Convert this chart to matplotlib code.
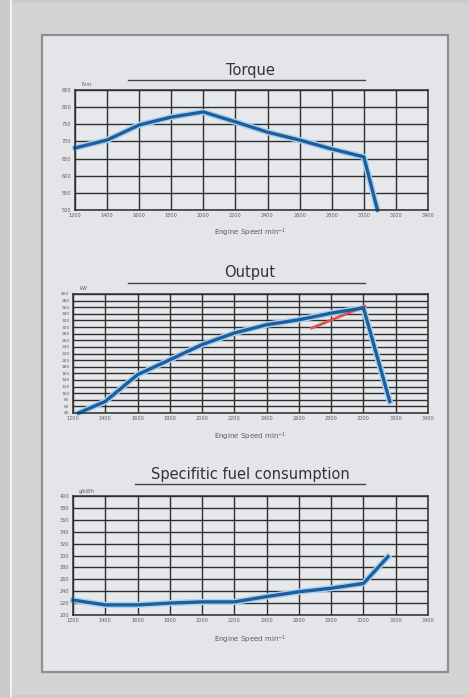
import matplotlib
matplotlib.use("Agg")
import matplotlib.pyplot as plt
from matplotlib.patches import Rectangle
from matplotlib.lines import Line2D

W, H = 469, 697

# x axis (engine speed, min^-1)
speed_ticks = list(range(1200, 3401, 200))

# torque curve
torque_rpm = [1200, 1400, 1600, 1800, 2000, 2200, 2400, 2600, 2800, 3000, 3085]
torque_nm = [681, 704, 748, 771, 786, 757, 727, 704, 678, 655, 500]
torque_ticks = list(range(500, 851, 50))

# output curve
power_rpm = [1235, 1400, 1600, 1800, 2000, 2200, 2400, 2600, 2800, 3000, 3163]
power_kw = [40, 75, 156, 201, 247, 282, 307, 322, 342, 358, 75]
power_red_rpm = [2680, 3008]
power_red_kw = [297, 363]
power_ticks = list(range(40, 401, 20))

# specific fuel consumption
fuel_rpm = [1200, 1400, 1600, 1800, 2000, 2200, 2400, 2600, 2800, 3000, 3152]
fuel_gkwh = [225, 217, 217, 220, 222, 222, 231, 239, 245, 253, 298]
fuel_ticks = list(range(200, 401, 20))


def px(x, y):
    return x / W, 1 - y / H


fig = plt.figure(figsize=(W / 100, H / 100), dpi=100)
fig.patch.set_facecolor("#c9cbc9")

# frame / panel (behind the axes)
for xy, w, h, fc, ec in [((10, 697), 2, 697, "#f4f4f4", "none"),
                         ((12, 695), 457, 692, "#d3d4d4", "none"),
                         ((42, 672), 406, 637, "#e3e5e8", "#8e8f90")]:
    fig.patches.append(Rectangle(px(*xy), w / W, h / H, transform=fig.transFigure,
                                 facecolor=fc, edgecolor=ec, linewidth=1.6, zorder=-10))

blue = "#1f5e9c"
glow = "#a9d2f2"
grid_c = "#2e2e2e"
txt_c = "#5c5c5c"


def make_axes(box, yticks, ylabel_unit, title, title_y, line_x, line_y, xlab_y):
    x0, y0, x1, y1 = box
    l, b = px(x0, y1)
    ax = fig.add_axes([l, b, (x1 - x0) / W, (y1 - y0) / H])
    ax.set_facecolor("#e6e8eb")
    ax.set_xlim(speed_ticks[0], speed_ticks[-1])
    ax.set_ylim(yticks[0], yticks[-1])
    ax.set_xticks(speed_ticks)
    ax.set_yticks(yticks)
    ax.set_xticklabels([str(t) for t in speed_ticks], fontsize=3.6, color=txt_c)
    ax.set_yticklabels([str(t) for t in yticks], fontsize=3.2 if len(yticks) > 12 else 3.6,
                       color=txt_c)
    ax.tick_params(length=0, pad=2.5)
    ax.grid(True, color=grid_c, linewidth=1.0)
    for s in ax.spines.values():
        s.set_color(grid_c)
        s.set_linewidth(1.1)
    fx, fy = px(x0 + 6, y0 - 5)
    fig.text(fx, fy, ylabel_unit, fontsize=3.6, color=txt_c, ha="left", va="center")
    tx, ty = px(250, title_y)
    fig.text(tx, ty, title, fontsize=10.5, color="#333333", ha="center", va="center")
    (lx0, _), (lx1, ly) = px(line_x[0], 0), px(line_x[1], line_y)
    fig.lines.append(Line2D([lx0, lx1], [ly, ly], transform=fig.transFigure,
                            color="#444444", linewidth=1.0))
    xx, xy = px(250, xlab_y)
    fig.text(xx, xy, "Engine Speed min$^{-1}$", fontsize=5, color=txt_c, ha="center", va="center")
    return ax


ax1 = make_axes((75, 90, 428, 210), torque_ticks, "N·m", "Torque", 70, (128, 365), 80, 233)
ax1.plot(torque_rpm, torque_nm, color=glow, linewidth=4.5, solid_capstyle="round")
ax1.plot(torque_rpm, torque_nm, color=blue, linewidth=2.4)

ax2 = make_axes((73, 294, 428, 413), power_ticks, "kW", "Output", 272, (128, 365), 283, 437)
ax2.plot(power_rpm, power_kw, color=glow, linewidth=4.5)
ax2.plot(power_red_rpm, power_red_kw, color="#e0504a", linewidth=2.0)
ax2.plot(power_rpm, power_kw, color=blue, linewidth=2.4)

ax3 = make_axes((73, 496, 428, 615), fuel_ticks, "g/kWh", "Specifitic fuel consumption", 475,
                (135, 365), 484, 640)
ax3.plot(fuel_rpm, fuel_gkwh, color=glow, linewidth=4.5)
ax3.plot(fuel_rpm, fuel_gkwh, color=blue, linewidth=2.4)

for ax in (ax1, ax2, ax3):
    for ln in ax.lines:
        ln.set_clip_on(False)

fig.savefig("out.png", dpi=100, facecolor=fig.get_facecolor())
